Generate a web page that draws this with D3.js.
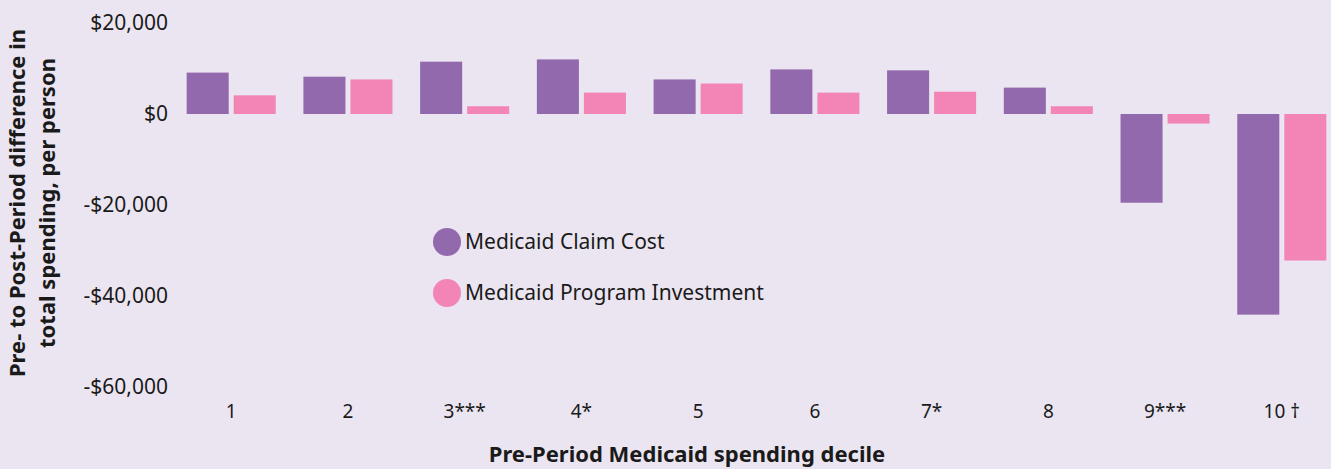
<!DOCTYPE html>
<html>
<head>
<meta charset="utf-8">
<script src="https://cdn.jsdelivr.net/npm/d3@7"></script>
<style>
  body { margin: 0; background: #ebe5f1; }
  svg { display: block; font-family: "Noto Sans", "Open Sans", sans-serif; }
  .tick text { fill: #1a1a1a; }
</style>
</head>
<body>
<div id="chart"></div>
<script>
const deciles = ["1", "2", "3***", "4*", "5", "6", "7*", "8", "9***", "10 \u2020"];
const claimCost = [9100, 8200, 11500, 12000, 7600, 9800, 9600, 5800, -19500, -44100];
const programInvestment = [4100, 7600, 1700, 4700, 6700, 4700, 4900, 1700, -2100, -32200];
const seriesNames = ["Medicaid Claim Cost", "Medicaid Program Investment"];
const colors = ["#9369ad", "#f285b6"];
const yTicks = [20000, 0, -20000, -40000, -60000];

const width = 1331, height = 469;
const font = '"Noto Sans", "Open Sans", sans-serif';

const rows = deciles.map((d, i) => ({ decile: d, values: [claimCost[i], programInvestment[i]] }));

const x = d3.scaleBand()
    .domain(deciles)
    .range([159, 1354])
    .paddingInner(0.237)
    .paddingOuter(0.237);

const xSub = d3.scaleBand()
    .domain([0, 1])
    .range([0, x.bandwidth()])
    .paddingInner(0.106);

const y = d3.scaleLinear()
    .domain([-60000, 20000])
    .range([387, 23]);

const fmt = v => (v < 0 ? "-$" : "$") + d3.format(",")(Math.abs(v));

const svg = d3.select("#chart").append("svg")
    .attr("width", width).attr("height", height);

svg.append("rect").attr("width", width).attr("height", height).attr("fill", "#ebe5f1");

// y axis, labels only
svg.append("g")
    .attr("transform", "translate(168,0)")
    .call(d3.axisLeft(y).tickValues(yTicks).tickFormat(fmt).tickSize(0).tickPadding(0))
    .attr("font-family", font).attr("font-size", 21)
    .call(g => g.select(".domain").remove());

// x axis, labels only
svg.append("g")
    .attr("transform", "translate(0,404)")
    .call(d3.axisBottom(x).tickSize(0).tickPadding(0))
    .attr("font-family", font).attr("font-size", 19)
    .call(g => g.select(".domain").remove());

// bars
const groups = svg.selectAll("g.decile")
    .data(rows)
    .enter().append("g").attr("class", "decile")
    .attr("transform", d => `translate(${x(d.decile)},0)`);

groups.selectAll("rect")
    .data(d => d.values.map((v, i) => ({ v, i })))
    .enter().append("rect")
    .attr("x", d => xSub(d.i))
    .attr("width", xSub.bandwidth())
    .attr("y", d => y(Math.max(0, d.v)))
    .attr("height", d => Math.abs(y(d.v) - y(0)))
    .attr("fill", d => colors[d.i]);

// legend
const legend = svg.selectAll("g.legend")
    .data(seriesNames)
    .enter().append("g").attr("class", "legend")
    .attr("transform", (d, i) => `translate(447,${242 + i * 51})`);
legend.append("circle").attr("r", 14).attr("fill", (d, i) => colors[i]);
legend.append("text")
    .attr("x", 18).attr("dy", "0.35em")
    .attr("font-size", 21).attr("fill", "#1a1a1a")
    .text(d => d);

// axis titles
svg.append("text")
    .attr("transform", "translate(17,203) rotate(-90)")
    .attr("text-anchor", "middle").attr("dy", "0.35em")
    .attr("font-size", 22).attr("font-weight", "bold").attr("fill", "#1a1a1a")
    .text("Pre- to Post-Period difference in");
svg.append("text")
    .attr("transform", "translate(47,203) rotate(-90)")
    .attr("text-anchor", "middle").attr("dy", "0.35em")
    .attr("font-size", 22).attr("font-weight", "bold").attr("fill", "#1a1a1a")
    .text("total spending, per person");

svg.append("text")
    .attr("x", 687).attr("y", 462)
    .attr("text-anchor", "middle")
    .attr("font-size", 22).attr("font-weight", "bold").attr("fill", "#1a1a1a")
    .text("Pre-Period Medicaid spending decile");
</script>
</body>
</html>
